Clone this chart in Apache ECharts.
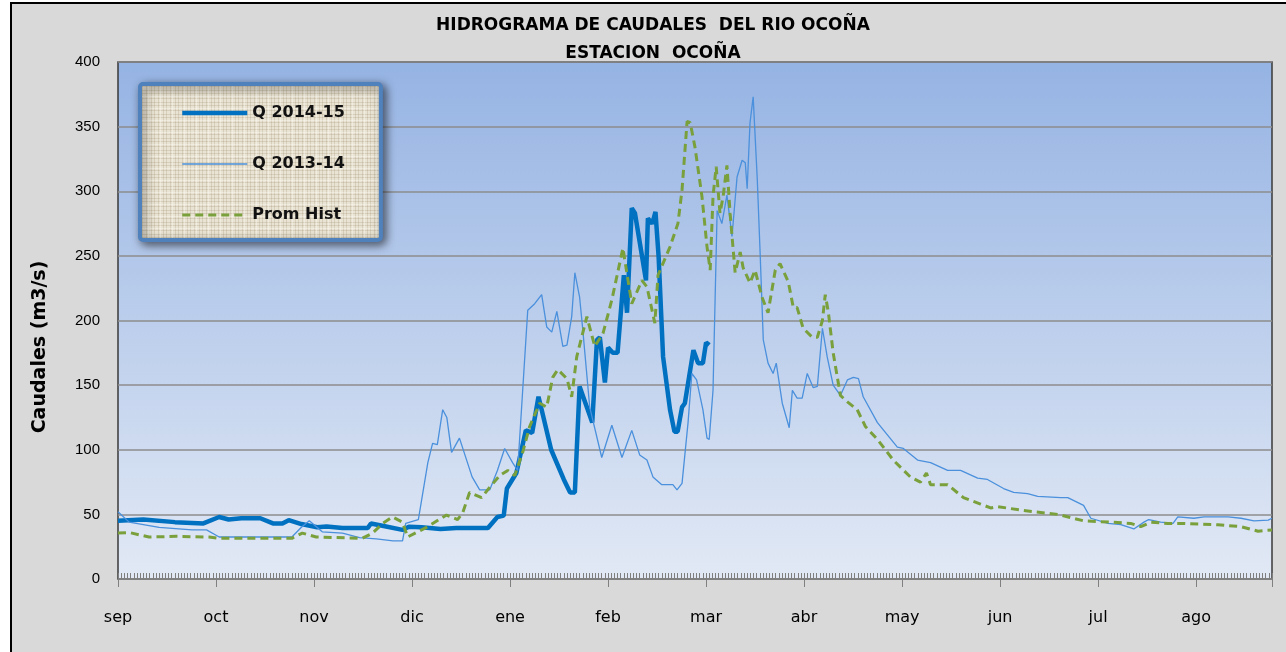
<!DOCTYPE html>
<html><head><meta charset="utf-8">
<script src="https://cdn.jsdelivr.net/npm/echarts@6/dist/echarts.min.js"></script>
<style>html,body{margin:0;padding:0;background:#fff}#c{width:1286px;height:652px}</style>
</head><body><div id="c"></div>
<script>
const months = ['sep','oct','nov','dic','ene','feb','mar','abr','may','jun','jul','ago'];
const yTicks = [0,50,100,150,200,250,300,350,400];

const q1415Days = [0,8,18,27,32,35,39,45,49,52,54,58,63,66,71,79,80,84,90,92,96,102,107,117,120,122,123,126,129,131,133,134,137,141,143,144.5,146,150,151.5,152.4,154,155,156.5,158,160,161,162.5,163.5,167,167.6,169,170,171,172.4,174.6,176,177,178.4,179.3,182,183.5,185,186,187];
const q1415Vals = [45,46,44,43,48,46,47,47,43,43,45.5,42.5,40,40.7,39.5,39.5,43,41,38,40.5,40,38.7,39.5,39.5,48,49,70,82,115,113,141,131,100,77,67,67,149,121,185,187,152,179,175,175,235,206,287,283,231,279,275,284,249,172,131,114,114,133,136,177,167,167,183,181];

const q1314Days = [0,3.5,13,23.4,28,32,45,55,58,60.5,62,64.6,71,76.4,81.7,87,90,91,95,98,99.5,101,102.7,104,105.5,108,112,114.4,117.6,120,122.3,124.8,126.4,128,129.6,131.8,134,135.6,137.2,138.8,140.7,142,143.5,144.5,146,147,149.2,153,156.2,159.4,162.5,165,167.3,169.2,172,175.5,176.8,178.4,180.3,181.5,183,185,186.3,187,188.2,189.5,191,192.6,194.2,195.8,197.4,198.4,199,199.9,200.9,202.2,203.1,204.1,205.6,207.2,208.2,210.1,212.3,213.3,214.8,216.4,218,219.9,221.2,222.8,224.3,226.2,228.5,230.7,232.6,234.2,235.7,240.2,246.5,248.4,252.9,257,262.4,266.5,271.9,275,280.1,283.3,287.7,290.9,298.2,300.4,305.4,307.7,313.1,317.2,321.3,324.5,326,329.8,333.7,335.2,340.3,343.5,351.1,355.2,359.3,363.8,365];
const q1314Vals = [52,44,40,38,38,32.5,32.5,32.5,40,45,42,36.5,35.5,32,31,29.5,29.5,43,46,90,105,104,131,125,98,109,79,69,69,84,101,90,84,146,208,213,220,195,191,207,180,181,203,237,218,193,133,94,119,94,115,96,92,79,73,73,69,74,121,159,154,131,109,108,146,285,275,297,265,311,324,322,302,353,373,309,252,185,167,159,167,136,117,146,140,140,159,148,149,194,172,150,142,154,156,155,141,121,102,101,92,90,84,84,78,77,70,67,66,64,63,63,57,47,43,42,38.7,44,46,44,43,48,47,48,48,47,45,45.6,47];

const promDays = [0,3.5,9.8,18.4,28.8,32,55,58.3,62.7,77.3,80.5,83.7,86.8,90,91.6,94.4,97.6,103.9,107.4,109,111.2,115,117.6,120.7,123.3,125.5,128,130.2,133.4,135.6,137.5,139.1,142,143.5,145.1,148.3,150.8,153.4,156.2,159.7,162.5,165.7,167.3,169.8,170.8,174.6,177.1,178.4,180,181,182.5,184.7,186.3,187.3,188.2,189.2,190.4,191.4,192.6,193.6,195.2,196.8,197.7,199.9,201.5,203.7,205.6,207.9,209.4,212,213.6,214.8,216.7,219.6,221.2,222.8,223.7,224.7,226.2,228.5,230.7,233.8,236.4,240.2,245.2,250.6,253.8,255.7,257,262.4,267.4,272.8,276,278.2,286.4,297.2,305.4,314,320.3,323.5,326.7,332.1,337.1,347.9,355.2,360.6,365];
const promVals = [35.5,36,32.5,33,32.5,31.5,31.5,35.5,32.5,31.5,35.5,43,48,44,32.5,36,40,49.5,46,51,67,63,71,80,84,80,98,118,136,133,156,162,155,141,172,203,180,190,216,256,213,231,226,198,235,257,275,301,354,353,334,296,257,239,296,319,283,296,320,283,237,253,241,229,239,218,206,239,244,230,210,210,194,187,187,200,220,206,175,142,137,131,118,108,92,79,75,82,73,73,63,58,55,56,53,50,45,44,43,40.5,44,43,43,42,40.5,37,38];

const pair = (d, v) => d.map((x, i) => [x, v[i]]);
const FONT = '"Liberation Sans", Arial, sans-serif';
const WIDE = '"DejaVu Sans", "Liberation Sans", sans-serif';

// woven (burlap-like) legend background pattern
const tex = document.createElement('canvas');
tex.width = 12; tex.height = 12;
(function () {
  const g = tex.getContext('2d');
  g.fillStyle = '#e9e3d3'; g.fillRect(0, 0, 12, 12);
  g.fillStyle = 'rgba(150,135,105,0.22)';
  g.fillRect(0, 0, 12, 1); g.fillRect(0, 5, 12, 1); g.fillRect(0, 9, 12, 1);
  g.fillRect(2, 0, 1, 12); g.fillRect(7, 0, 1, 12); g.fillRect(10, 0, 1, 12);
  g.fillStyle = 'rgba(255,255,250,0.35)';
  g.fillRect(0, 3, 12, 1); g.fillRect(4, 0, 1, 12);
})();

const chart = echarts.init(document.getElementById('c'), null, {renderer: 'canvas'});
chart.setOption({
  animation: false,
  backgroundColor: '#ffffff',
  graphic: [
    {type: 'rect', z: -100, silent: true, shape: {x: 11, y: 3, width: 1300, height: 670},
     style: {fill: '#d9d9d9', stroke: '#000', lineWidth: 2}},
    {type: 'text', x: 40, y: 347, rotation: Math.PI / 2, silent: true,
     style: {text: 'Caudales (m3/s)', font: 'bold 19px ' + WIDE, fill: '#000', textAlign: 'center', textVerticalAlign: 'middle'}}
  ],
  title: [
    {text: 'HIDROGRAMA DE CAUDALES  DEL RIO OCOÑA', left: 648, top: 12, textAlign: 'center',
     textStyle: {fontFamily: WIDE, fontWeight: 'bold', fontSize: 17, color: '#000'}},
    {text: 'ESTACION  OCOÑA', left: 648, top: 40, textAlign: 'center',
     textStyle: {fontFamily: WIDE, fontWeight: 'bold', fontSize: 17, color: '#000'}}
  ],
  legend: {
    left: 140, top: 84, orient: 'vertical',
    itemWidth: 65, itemHeight: 14, itemGap: 35,
    padding: [21, 36, 17, 40],
    backgroundColor: {image: tex, repeat: 'repeat'},
    borderColor: '#4f81bd', borderWidth: 4, borderRadius: 3,
    shadowBlur: 10, shadowColor: 'rgba(0,0,0,0.55)', shadowOffsetX: 3, shadowOffsetY: 3,
    itemStyle: {color: 'rgba(0,0,0,0)', borderColor: 'rgba(0,0,0,0)', borderWidth: 0},
    textStyle: {fontFamily: WIDE, fontWeight: 'bold', fontSize: 16, color: '#111'},
    data: [
      {name: 'Q 2014-15', lineStyle: {width: 4.5}},
      {name: 'Q 2013-14', lineStyle: {width: 1.3}},
      {name: 'Prom Hist', lineStyle: {width: 3}}
    ]
  },
  grid: {
    left: 118, right: 14, top: 62, bottom: 73, show: true,
    borderColor: '#3a3a3a', borderWidth: 1.5,
    backgroundColor: new echarts.graphic.LinearGradient(0, 0, 0, 1, [
      {offset: 0, color: '#95b3e3'}, {offset: 1, color: '#e2e9f5'}
    ])
  },
  xAxis: [
    {type: 'value', min: 0, max: 365, interval: 31, position: 'bottom',
     axisLine: {show: true, lineStyle: {color: '#808080', width: 1}},
     axisTick: {show: true, inside: false, length: 8, lineStyle: {color: '#808080'}},
     splitLine: {show: false},
     axisLabel: {margin: 31, fontFamily: WIDE, fontSize: 16, color: '#000',
       formatter: v => { const i = Math.round(v / 31); return (v % 31 === 0 && i < 12) ? months[i] : ''; }}},
    {type: 'value', min: 0, max: 365, interval: 1, position: 'bottom',
     axisLine: {show: false}, splitLine: {show: false}, axisLabel: {show: false},
     axisTick: {show: true, inside: true, length: 6, lineStyle: {color: '#7f7f7f', width: 1}}}
  ],
  yAxis: {
    type: 'value', min: 0, max: 400, interval: 50,
    axisLine: {show: false}, axisTick: {show: false},
    splitLine: {show: true, lineStyle: {color: '#8c8c8c', width: 1.5}},
    axisLabel: {margin: 18, fontFamily: FONT, fontSize: 15, color: '#000',
      formatter: v => yTicks.includes(v) ? String(v) : ''}
  },
  series: [
    {name: 'Q 2014-15', type: 'line', xAxisIndex: 0, showSymbol: false, symbol: 'none',
     data: pair(q1415Days, q1415Vals), lineStyle: {color: '#0070c0', width: 4.5}, itemStyle: {color: '#0070c0'}},
    {name: 'Q 2013-14', type: 'line', xAxisIndex: 0, showSymbol: false, symbol: 'none',
     data: pair(q1314Days, q1314Vals), lineStyle: {color: '#4a90dc', width: 1.3}, itemStyle: {color: '#4a90dc'}},
    {name: 'Prom Hist', type: 'line', xAxisIndex: 0, showSymbol: false, symbol: 'none',
     data: pair(promDays, promVals), lineStyle: {color: '#7aa03c', width: 3, type: [8, 5]}, itemStyle: {color: '#7aa03c'}}
  ]
});
</script></body></html>
